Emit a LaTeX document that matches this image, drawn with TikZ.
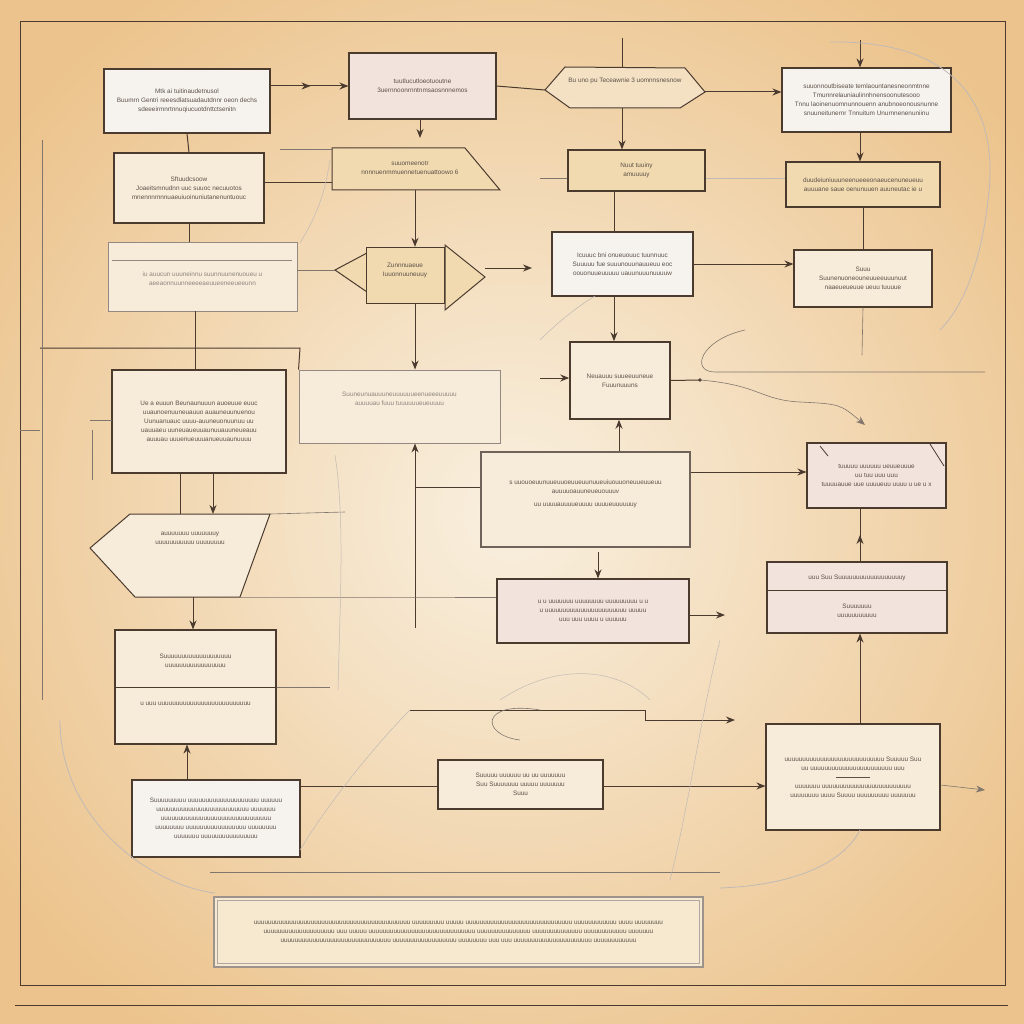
\documentclass[tikz,border=0pt]{standalone}
\usepackage{fontspec}
\setmainfont{Liberation Sans}
\usetikzlibrary{arrows.meta,calc}
\definecolor{bgin}{HTML}{F9F0E0}
\definecolor{bgout}{HTML}{ECC38C}
\definecolor{ink}{HTML}{4B3B2F}
\definecolor{txtc}{HTML}{5C5149}
\definecolor{fwhite}{HTML}{F6F2EE}
\definecolor{fpink}{HTML}{F3E3DD}
\definecolor{ftan}{HTML}{F1DAB0}
\definecolor{fcream}{HTML}{F7ECD9}
\newcommand\dtxt{\fontsize{6.4}{9}\selectfont}
\tikzset{
  box/.style={draw=ink, line width=1.1pt, align=center, font=\dtxt, text=txtc, inner sep=2pt},
  fadedbox/.style={draw=ink!60, line width=0.9pt, align=center, font=\dtxt, text=txtc!70, inner sep=2pt},
  plain/.style={align=center, font=\dtxt, text=txtc, inner sep=1pt},
  conn/.style={draw=ink, line width=1pt},
  thinconn/.style={draw=ink!70, line width=0.6pt},
  faint/.style={draw=ink!35, line width=0.5pt},
  arr/.style={-{Stealth[length=9pt,width=7pt]}},
  rarr/.style={{Stealth[length=9pt,width=7pt]}-},
  frame/.style={draw=ink, line width=1pt}
}
\begin{document}
\begin{tikzpicture}[x=1pt,y=-1pt]
\useasboundingbox (0,0) rectangle (1024,1024);
\shade[inner color=bgin, outer color=bgout] (-120,-120) rectangle (1144,1144);
\draw[frame] (20,22) rectangle (1005,985);
\draw[frame] (15,1005) -- (1008,1005);

% ---------- boxes ----------
\node[box, fill=fwhite, minimum width=166pt, minimum height=64pt] (b1) at (187,101)
  {Mtk ai tuitinaudetnusol\\ Buumrn Gentri reeesdlatsuadautdnnr oeon dechs\\ sdeeeirmnrtnnuqiucuotdnttctsenitn};
\node[box, fill=fpink, minimum width=147pt, minimum height=66pt] (b2) at (422.5,86)
  {tuutlucutloeotuoutne\\ 3uernnoonrnntnmsaosnnnemos};
% lens b3
\node[plain, minimum width=160pt, minimum height=42pt] (b3) at (625,88) {};
\coordinate (b3w) at (545,90);
\coordinate (b3e) at (705,92);
\draw[conn, fill=ftan!50, fill opacity=0.6] (b3w) -- (565,67) -- (685,68) -- (b3e) -- (680,108) -- (570,108) -- cycle;
\node[plain] (b3t) at (625,81) {Bu uno pu Teceawnie 3 uomnnsnesnow};
\node[box, fill=fwhite, minimum width=169pt, minimum height=64pt] (b4) at (866.5,100)
  {suuonnoutbiseate temlaountanesneonmtnne\\ Tmunnrelauniaulinnhnensoonutesooo\\ Tnnu laoinenuomnunnouenn anubnoeonousnunne\\ snuuneitunernr Tnnuitum Unurnnenenuniinu};
\node[box, fill=fcream, minimum width=150pt, minimum height=70pt] (b5) at (189,188)
  {Sftuudcsoow\\ Joaeitsmnudnn uuc suuoc necuuotos\\ mnennnmnnuaeuiuoinuniutanenuntuouc};
% b6 pentagon
\node[plain, minimum width=168pt, minimum height=42pt] (b6) at (416,169) {};
\draw[conn, fill=ftan] (332,148) -- (465,148) -- (500,190) -- (332,190) -- cycle;
\node[plain] (b6t) at (410,168) {suuomeenotr\\ nnnnuenmmuennetuenuattoowo 6};
\node[box, fill=ftan, minimum width=137pt, minimum height=41pt] (b7) at (636.5,170.5)
  {Nuut tuuiny\\ amuuuuy};
\node[box, fill=ftan, minimum width=154pt, minimum height=45pt] (b8) at (863,184.5)
  {duudeiuniuuuneenueeeonaeucenuneueuu\\ auuuane saue oenunuuen auuneutac ie u};
\node[fadedbox, fill=fcream, minimum width=189pt, minimum height=69pt] (b9) at (202.5,276.5)
  {\\ iu auucun uuuneinnu suunnuunenuoueu u\\ aeeaonnuunneeeeaeuueeneeueeunn};
\draw[ink!60, line width=0.8pt] (112,260) -- (292,260);
% b10 double arrow
\node[plain, minimum width=78pt, minimum height=56pt] (b10) at (405,275) {};
\draw[conn, fill=ftan] (367,253) -- (335,270) -- (367,292) -- cycle;
\draw[conn, fill=ftan] (445,245) -- (485,277) -- (445,310) -- cycle;
\draw[conn, fill=ftan] (366,247) rectangle (444,303);
\coordinate (b10w) at (335,270);
\coordinate (b10e) at (485,277);
\node[plain] (b10t) at (405,270) {Zunnnuaeue\\ Iuuonnuuneuuy};
\node[box, fill=fwhite, minimum width=141pt, minimum height=64pt] (b11) at (622.5,264)
  {Icuuuc bni onueuouuc tuunnuuc\\ Suuuuu fue suuunouunauueuu eoc\\ oouonuueuuuuu uauunuuunuuuuw};
\node[box, fill=fcream, minimum width=138pt, minimum height=57pt] (b12) at (863,278.5)
  {Suuu\\ Suunenuoneouneuueeuuunuut\\ naaeueueuue ueuu tuuuue};
\node[box, fill=fcream, line width=1.5pt, minimum width=100pt, minimum height=77pt] (b13) at (620,380.5)
  {Neuauuu suueeuuneue\\ Fuuunuuuns};
\node[box, fill=fcream, minimum width=174pt, minimum height=103pt] (b14) at (199,421.5)
  {Ue  a euuun Beunaunuuun  auoeuue euuc\\ uuaunoenuuneuauuo  auauneuunuenou\\ Uunuanuauc uuuu-auuneuonuunuu uu\\ uauuaeu uuneuaueuuaunuuauuneueauu\\ auuuau  uuuenueuuuanueuuaunuuuu};
\node[fadedbox, fill=fcream, minimum width=201pt, minimum height=73pt] (b15) at (399.5,406.5)
  {Suuneunuauuuneuuuuuueenueeeuuuuu\\ auuuuau  fuuu tuuuuuueueuuuu\\[6pt]};
\node[box, fill=fcream, draw=ink!80, minimum width=209pt, minimum height=95pt] (b16) at (585.5,499.5)
  {s uuouoeuunuueuuoeuueuunuueuiuouuoneuueuueuu\\ auuuuoauuneueuouuuv\\[4pt] uu uuuuauuuueuuuu  uuuueuuuuuuy\\[4pt]};
\node[box, fill=fpink, minimum width=139pt, minimum height=65pt] (b17) at (876.5,475.5)
  {tuuuuu uuuuuu ueuueuuue\\ uu tuu uuu uuu\\ tuuuuauue uue uuuueuu uuuu u ue u x};
\draw[ink, line width=0.8pt] (820,446) -- (828,456) (930,444) -- (944,466);
% b18 pointer
\node[plain, minimum width=160pt, minimum height=83pt] (b18) at (180,555) {};
\draw[conn, fill=fcream] (90,548) -- (130,514) -- (270,514) -- (240,597) -- (135,597) -- cycle;
\coordinate (b18s) at (240,597);
\node[plain] (b18t) at (190,538) {auuuuuuu uuuuuuuy\\ uuuuuuuuuuu uuuuuuuu};
\node[box, fill=fpink, minimum width=192pt, minimum height=64pt] (b19) at (593,611)
  {u u  uuuuuuu uuuuuuuu  uuuuuuuuu u  u\\ u  uuuuuuuuuuuuuuuuuuuuuuu uuuuu\\ uuu  uuu  uuuu u  uuuuuu};
\node[box, fill=fpink, minimum width=180pt, minimum height=71pt] (b20) at (857,597.5) {};
\draw[conn] (b20.west |- 0,590) -- (b20.east |- 0,590);
\node[plain] (b20a) at (857,578) {uuu Suu Suuuuuuuuuuuuuuuuuuy};
\node[plain] (b20b) at (857,611) {Suuuuuuu\\ uuuuuuuuuuu};
\node[box, fill=fcream, minimum width=161pt, minimum height=114pt] (b21) at (195.5,687) {};
\draw[conn] (b21.west |- 0,687) -- (b21.east |- 0,687);
\node[plain] (b21a) at (195.5,661) {Suuuuuuuuuuuuuuuuuuu\\ uuuuuuuuuuuuuuuuu};
\node[plain] (b21b) at (195.5,704) {u  uuu  uuuuuuuuuuuuuuuuuuuuuuuuuu};
\node[box, fill=fwhite, minimum width=168pt, minimum height=77pt] (b22) at (216,818.5)
  {Suuuuuuuuu uuuuuuuuuuuuuuuuuuuu uuuuuu\\ uuuuuuuuuuuuuuuuuuuuuuuuuu  uuuuuuu\\ uuuuuuuuuuuuuuuuuuuuuuuuuuuuuuu\\ uuuuuuuu uuuuuuuuuuuuuuuuu  uuuuuuuu\\ uuuuuuu uuuuuuuuuuuuuuuu};
\node[box, fill=fcream, minimum width=165pt, minimum height=49pt] (b23) at (520.5,784.5)
  {Suuuuu uuuuuu uu  uu uuuuuuu\\ Suu Suuuuuuu uuuuu uuuuuuu\\ Suuu};
\node[box, fill=fcream, minimum width=174pt, minimum height=106pt] (b24) at (853,777)
  {uuuuuuuuuuuuuuuuuuuuuuuuuuuu Suuuuu Suu\\ uu uuuuuuuuuuuuuuuuuuuuuuu uuu\\[-2pt] \rule{34pt}{0.6pt}\\[2pt] uuuuuuu uuuuuuuuuuuuuuuuuuuuuuuuu\\ uuuuuuuu uuuu Suuuu uuuuuuuuu uuuuuuu};
\node[box, fill=ftan!60, draw=ink!55, line width=1.4pt, minimum width=489pt, minimum height=70pt] (b25) at (458.5,932)
  {uuuuuuuuuuuuuuuuuuuuuuuuuuuuuuuuuuuuuuuuuuuu  uuuuuuuuu uuuuu uuuuuuuuuuuuuuuuuuuuuuuuuuuuuu uuuuuuuuuuuu  uuuu uuuuuuuu\\ uuuuuuuuuuuuuuuuuuuu uuu uuuuu uuuuuuuuuuuuuuuuuuuuuuuuuuuuuu uuuuuuuuuuuuuuu uuuuuuuuuuuuuu  uuuuuuuuuuuu  uuuuuuu\\ uuuuuuuuuuuuuuuuuuuuuuuuuuuuuuu uuuuuuuuuuuuuuuuuu  uuuuuuuu uuu uuu uuuuuuuuuuuuuuuuuuuuuu uuuuuuuuuuuu};
\draw[ink!45, line width=0.6pt] ($(b25.north west)+(4,4)$) rectangle ($(b25.south east)+(-4,-4)$);

% ---------- connectors ----------
\draw[conn, arr] (b1.east |- b2.west) -- (b2.west);
\draw[conn, arr] (b1.east |- b2.west) -- ++(40,0);
\draw[conn] (b2.east) -- (b3w);
\draw[conn, arr] (b3e) -- (b4.west |- b3e);
\coordinate (b3top) at (622,38);
\draw[conn] (b3top) -- (622,67);
\draw[conn, arr] (622,108) -- (b7.north -| 622,0);
\coordinate (b4top) at (860,40);
\draw[conn, rarr] (b4.north -| 860,0) -- (b4top);
\draw[conn, arr] (b4.south -| 860,0) -- (b8.north -| 860,0);
\draw[conn, arr] (420,120) -- (420,138);
\draw[conn] (b1.south) -- (b5.north);
\draw[conn] (b5.east |- 0,183) -- (b6.west |- 0,183);
\draw[thinconn] (280,149) -- (332,149);
\draw[conn, arr] (b6.south -| 415,0) -- (b10.north -| 415,0);
\draw[conn, arr] (b10.south -| 415,0) -- (b15.north -| 415,0);
\coordinate (b10out) at (532,268);
\draw[conn, arr] (b10e |- b10out) -- (b10out);
\draw[thinconn] (b9.east |- b10w) -- (b10w);
\draw[conn] (b5.south) -- (b9.north -| b5.south);
\draw[conn] (b9.south -| 195,0) -- (b14.north -| 195,0);
\draw[conn] (40,348) -- (300,348) -- (b15.north west);
\draw[faint, line width=0.7pt] (b7.east |- 0,178) -- (b8.west |- 0,178);
\draw[thinconn] (540,178) -- (b7.west |- 0,178);
\draw[conn, arr] (b11.south -| 614,0) -- (b13.north -| 614,0);
\draw[conn] (b7.south -| 614,0) -- (b11.north -| 614,0);
\draw[conn, arr] (b11.east) -- (b12.west |- b11.east);
\draw[conn] (b8.south) -- (b12.north);
\coordinate (b12end) at (862,355);
\draw[thinconn] (b12.south) -- (b12end);
\coordinate (b13dot) at (700,380);
\draw[conn] (b13.east) -- (b13dot);
\fill[ink] (b13dot) circle (1.8);
\coordinate (b13tip) at (865,425);
\draw[thinconn, arr] (b13dot) .. controls (760,385) and (760,400) .. (800,402) .. controls (840,404) .. (b13tip);
\coordinate (b13in) at (540,378);
\draw[conn, arr] (b13in) -- (b13.west |- b13in);
\draw[thinconn] (745,330) .. controls (700,340) and (690,372) .. (715,372) -- (985,372);
\draw[conn, arr] (b16.north -| 619,0) -- (b13.south -| 619,0);
\coordinate (b15v) at (415,628);
\draw[conn, arr] (b15v) -- (b15.south -| 415,0);
\draw[conn] (415,487) -- (b16.west |- 0,487);
\draw[conn, arr] (b16.east |- 0,472) -- (b17.west |- 0,472);
\draw[conn, arr] (598,552) -- (b19.north -| 598,0);
\draw[conn, arr] (b20.north -| 860,0) -- ($(b17.south -| 860,0)!0.5!(b20.north -| 860,0)$);
\draw[conn] (b17.south -| 860,0) -- (b20.north -| 860,0);
\draw[conn, {Stealth[length=9pt,width=7pt]}-] (b20.south -| 860,0) -- (b24.north -| 860,0);
\coordinate (b19out) at (725,615);
\draw[conn, arr] (b19.east |- b19out) -- (b19out);
\draw[conn] (b14.south -| 180,0) -- (180,514);
\draw[conn, arr] (b14.south -| 213,0) -- (213,514);
\draw[conn, arr] (193,597) -- (b21.north -| 193,0);
\draw[conn, arr] (b22.north -| 187,0) -- (b21.south -| 187,0);
\draw[conn] (b22.east |- 0,786) -- (b23.west |- 0,786);
\draw[conn, arr] (b23.east |- 0,786) -- (b24.west |- 0,786);
\coordinate (b24out) at (985,790);
\draw[thinconn, arr] (b24.east |- 0,785) -- (b24out);
\coordinate (b21out) at (330,687);
\draw[thinconn] (b21.east |- b21out) -- (b21out);
\draw[thinconn] (b18s) -- (415,597) -- (b19.west |- b18s);
\draw[thinconn] (270,514) -- (345,512);
\coordinate (midl) at (410,710);
\coordinate (midr) at (735,720);
\draw[conn, arr] (midl) -- (645,710) -- (645,720) -- (midr);
\draw[thinconn] (540,710) .. controls (480,700) and (480,735) .. (520,740);
\draw[faint] (500,700) .. controls (560,660) and (620,670) .. (650,700);
% left and right sketch lines
\draw[thinconn] (42,140) -- (42,700);
\draw[faint, line width=0.8pt] (60,720) .. controls (60,820) and (150,885) .. (215,893);
\draw[faint, line width=0.8pt] (830,42) .. controls (960,40) and (1000,110) .. (988,200) .. controls (980,270) and (960,310) .. (940,330);
\draw[thinconn] (210,872) -- (720,872);
\draw[faint, line width=0.8pt] (720,888) .. controls (800,885) and (845,860) .. (860,830);
\draw[faint] (720,640) .. controls (700,720) and (690,800) .. (670,880);
\draw[faint] (300,850) .. controls (330,800) and (380,740) .. (410,710);
\draw[faint] (335,455) .. controls (345,520) and (340,600) .. (338,690);
\draw[faint] (300,243) .. controls (320,210) and (325,190) .. (330,160);
\draw[faint] (540,340) .. controls (560,320) and (580,305) .. (595,296);
\draw[thinconn] (90,420) -- (112,420) (92,430) -- (92,480);
\draw[thinconn] (20,430) -- (40,430);
\end{tikzpicture}
\end{document}
